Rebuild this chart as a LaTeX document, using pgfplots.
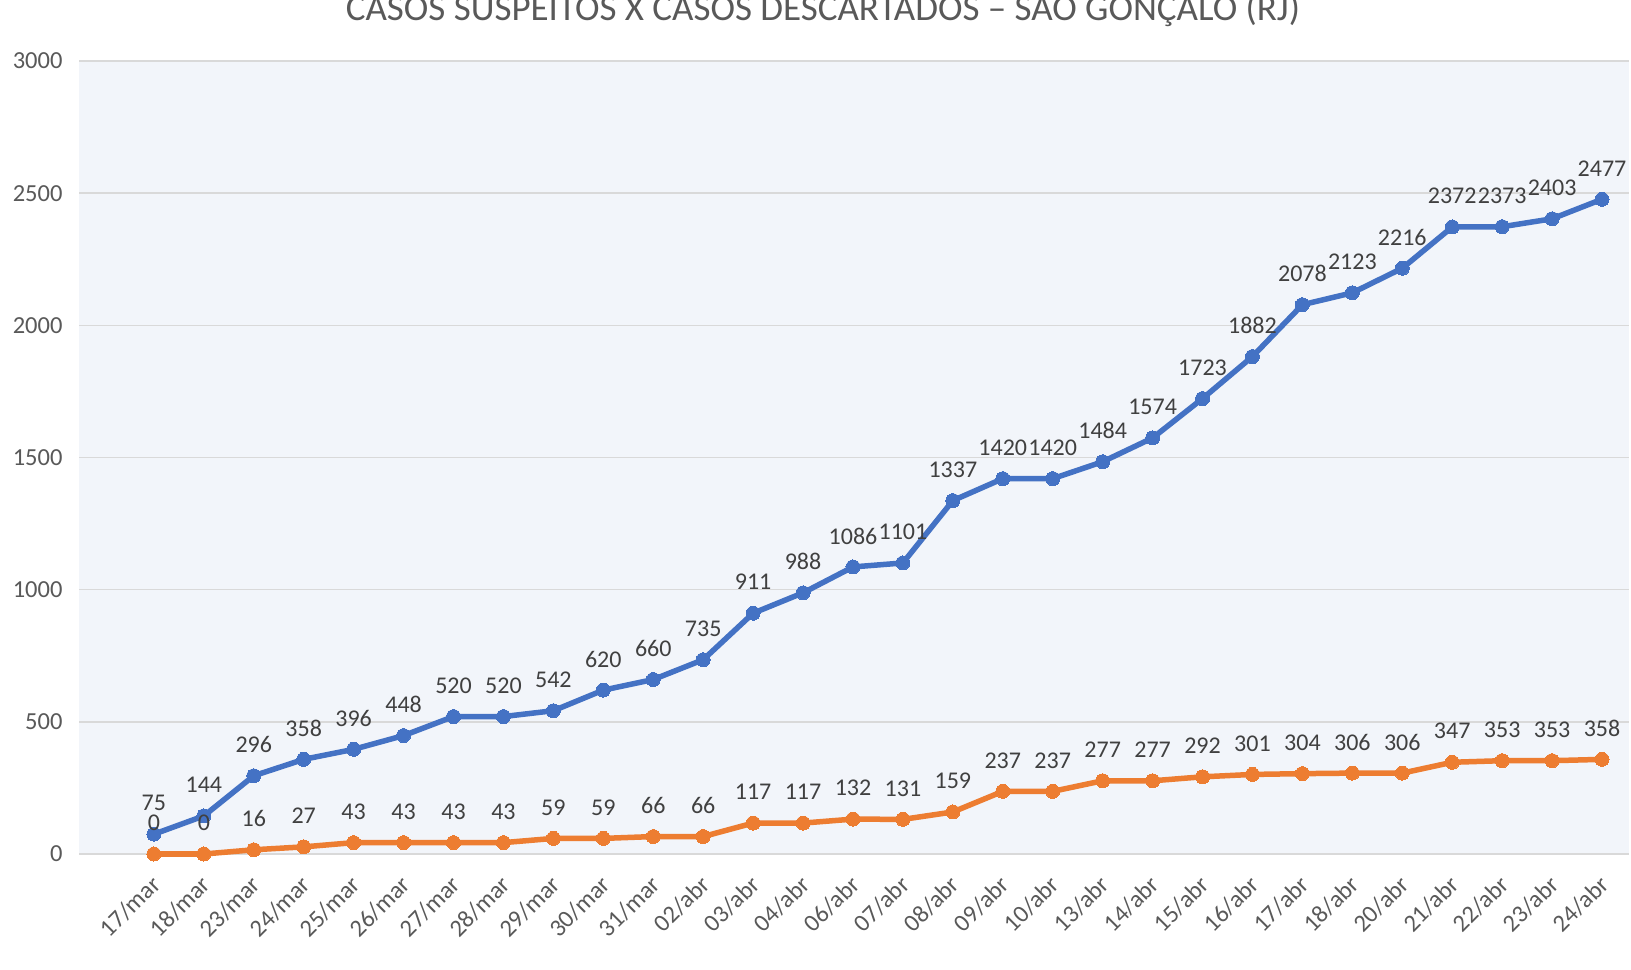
\documentclass[border=0pt]{standalone}
\usepackage{fontspec}
\setmainfont{Carlito}
\usepackage{pgfplots}
\pgfplotsset{compat=1.18}
\definecolor{blueS}{HTML}{4472C4}
\definecolor{orangeS}{HTML}{ED7D31}
\definecolor{bgc}{HTML}{F2F5FA}
\definecolor{gridc}{HTML}{D9D9D9}
\definecolor{tickc}{HTML}{595959}
\definecolor{labc}{HTML}{404040}
\begin{document}
\begin{tikzpicture}[x=1bp,y=1bp]
\begin{axis}[
  at={(79bp,116bp)}, anchor=south west,
  scale only axis, width=1550bp, height=793bp,
  xmin=-1.5, xmax=29.54, ymin=0, ymax=3000,
  ytick={0,500,...,3000},
  xtick={0,...,29},
  xticklabels={17/mar,18/mar,23/mar,24/mar,25/mar,26/mar,27/mar,28/mar,29/mar,30/mar,31/mar,02/abr,03/abr,04/abr,06/abr,07/abr,08/abr,09/abr,10/abr,13/abr,14/abr,15/abr,16/abr,17/abr,18/abr,20/abr,21/abr,22/abr,23/abr,24/abr},
  axis line style={draw=none},
  major tick length=0pt,
  ymajorgrids,
  grid style={line width=1.5bp, color=gridc},
  axis background/.style={fill=bgc},
  clip=false,
  /pgf/number format/assume math mode=true,
  /pgf/number format/1000 sep={},
  /pgf/number format/fixed, /pgf/number format/precision=0,
  ticklabel style={font=\fontsize{24.5bp}{28bp}\selectfont, color=tickc},
  yticklabel style={anchor=east, xshift=-13bp},
  xticklabel style={xshift=5bp, yshift=-24bp, rotate=45, anchor=east},
  nodes near coords,
  every node near coord/.style={anchor=center, yshift=31bp, font=\fontsize{24bp}{28bp}\selectfont, color=labc},
]
\addplot[color=blueS, line width=5.5bp, mark=*, mark size=7bp, mark options={fill=blueS, draw=blueS, line width=0pt}]
coordinates {(0,75) (1,144) (2,296) (3,358) (4,396) (5,448) (6,520) (7,520) (8,542) (9,620) (10,660) (11,735) (12,911) (13,988) (14,1086) (15,1101) (16,1337) (17,1420) (18,1420) (19,1484) (20,1574) (21,1723) (22,1882) (23,2078) (24,2123) (25,2216) (26,2372) (27,2373) (28,2403) (29,2477)};
\addplot[color=orangeS, line width=5.5bp, mark=*, mark size=7bp, mark options={fill=orangeS, draw=orangeS, line width=0pt}]
coordinates {(0,0) (1,0) (2,16) (3,27) (4,43) (5,43) (6,43) (7,43) (8,59) (9,59) (10,66) (11,66) (12,117) (13,117) (14,132) (15,131) (16,159) (17,237) (18,237) (19,277) (20,277) (21,292) (22,301) (23,304) (24,306) (25,306) (26,347) (27,353) (28,353) (29,358)};
\end{axis}
\node[anchor=base, font=\fontsize{37bp}{44bp}\selectfont, color=tickc, inner sep=0pt] at (823bp,949bp) {CASOS SUSPEITOS X CASOS DESCARTADOS – SÃO GONÇALO (RJ)};
\pgfresetboundingbox
\path[use as bounding box] (0,0) rectangle (1631bp,970bp);
\end{tikzpicture}
\end{document}
